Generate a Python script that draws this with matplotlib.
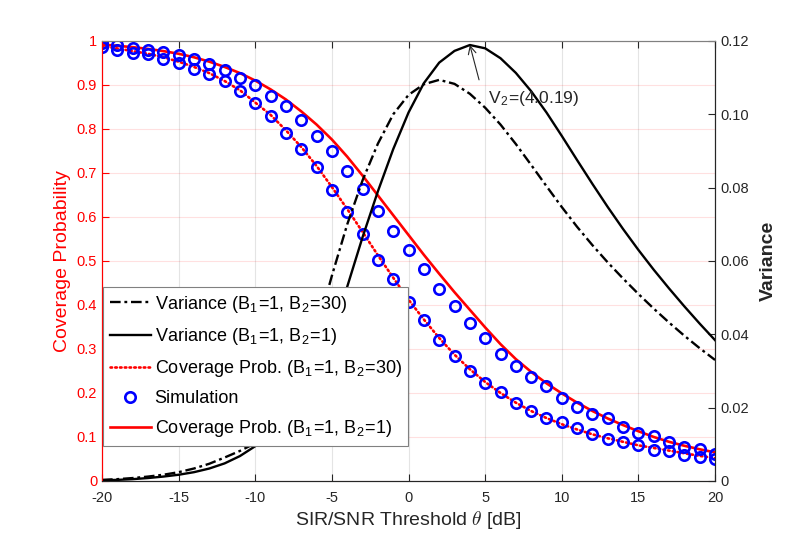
import numpy as np
import matplotlib
matplotlib.use("Agg")
import matplotlib.pyplot as plt
from matplotlib.lines import Line2D

plt.rcParams['font.family'] = ['Liberation Sans', 'DejaVu Sans']
plt.rcParams['mathtext.fontset'] = 'cm'
plt.rcParams['axes.unicode_minus'] = False

# SIR/SNR threshold [dB]
theta = np.arange(-20, 21)

# analytic coverage probability
cov_b1 = [0.992, 0.989, 0.986, 0.982, 0.977, 0.971, 0.963, 0.953, 0.941, 0.927,
          0.910, 0.890, 0.867, 0.840, 0.810, 0.776, 0.737, 0.694, 0.649, 0.604,
          0.559, 0.514, 0.471, 0.429, 0.389, 0.349, 0.311, 0.277, 0.248, 0.222,
          0.199, 0.178, 0.159, 0.142, 0.127, 0.113, 0.100, 0.089, 0.080, 0.072, 0.065]
cov_b30 = [0.988, 0.983, 0.977, 0.971, 0.963, 0.953, 0.941, 0.927, 0.909, 0.888,
           0.860, 0.832, 0.797, 0.759, 0.716, 0.668, 0.618, 0.566, 0.513, 0.462,
           0.412, 0.367, 0.325, 0.287, 0.254, 0.225, 0.200, 0.178, 0.159, 0.143,
           0.129, 0.117, 0.106, 0.097, 0.089, 0.081, 0.075, 0.069, 0.063, 0.057, 0.052]

# simulation points
sim_b1 = [0.995, 0.990, 0.985, 0.980, 0.975, 0.968, 0.958, 0.948, 0.934, 0.917,
          0.900, 0.876, 0.852, 0.820, 0.785, 0.750, 0.704, 0.664, 0.614, 0.569,
          0.525, 0.481, 0.436, 0.398, 0.358, 0.324, 0.289, 0.262, 0.236, 0.216,
          0.188, 0.169, 0.152, 0.144, 0.122, 0.110, 0.102, 0.088, 0.077, 0.073, 0.061]
sim_b30 = [0.987, 0.980, 0.973, 0.970, 0.960, 0.951, 0.937, 0.925, 0.908, 0.886,
           0.858, 0.830, 0.792, 0.754, 0.713, 0.661, 0.611, 0.561, 0.502, 0.459,
           0.406, 0.366, 0.320, 0.284, 0.250, 0.222, 0.202, 0.177, 0.158, 0.142,
           0.135, 0.120, 0.106, 0.095, 0.088, 0.082, 0.070, 0.067, 0.059, 0.055, 0.049]

# variance of the coverage
var_b1 = [0.0002, 0.0003, 0.0005, 0.0008, 0.0012, 0.0017, 0.0024, 0.0034, 0.0048, 0.0068,
          0.0095, 0.0128, 0.0170, 0.0225, 0.0300, 0.0405, 0.0530, 0.0665, 0.0790, 0.0905,
          0.1005, 0.1085, 0.1141, 0.1173, 0.1189, 0.1180, 0.1153, 0.1113, 0.1063, 0.1005,
          0.0941, 0.0875, 0.0810, 0.0747, 0.0687, 0.0630, 0.0576, 0.0525, 0.0476, 0.0429, 0.0384]
var_b30 = [0.0003, 0.0005, 0.0008, 0.0012, 0.0017, 0.0024, 0.0034, 0.0047, 0.0064, 0.0082,
           0.0103, 0.0148, 0.0210, 0.0295, 0.0410, 0.0560, 0.0700, 0.0820, 0.0920, 0.1000,
           0.1053, 0.1082, 0.1094, 0.1083, 0.1056, 0.1018, 0.0972, 0.0919, 0.0862, 0.0804,
           0.0747, 0.0693, 0.0643, 0.0596, 0.0552, 0.0510, 0.0470, 0.0432, 0.0396, 0.0362, 0.0330]

xticks = np.arange(-20, 21, 5)
left_ticks = np.arange(0, 1.01, 0.1)
right_ticks = np.arange(0, 0.121, 0.02)

dark = "#262626"
red = "#ff0000"

fig = plt.figure(figsize=(7.89, 5.40), dpi=100)
ax = fig.add_axes([0.1293, 0.1093, 0.777, 0.8148])
ax2 = ax.twinx()

# coverage (left axis)
dots = (0, (0.6, 1.2))
ax.plot(theta, cov_b1, color=red, lw=1.9, zorder=3)
ax.plot(theta, cov_b30, color=red, lw=1.9, linestyle=dots,
        dash_capstyle="round", zorder=3)
ax.plot(theta, sim_b1, "o", mfc="none", mec="#0000ff", mew=1.9, ms=7.5, zorder=4)
ax.plot(theta, sim_b30, "o", mfc="none", mec="#0000ff", mew=1.9, ms=7.5, zorder=4)

# variance (right axis)
dashdot = (0, (4.5, 1.6, 1.2, 1.6))
ax2.plot(theta, var_b30, color="black", lw=1.7, linestyle=dashdot)
ax2.plot(theta, var_b1, color="black", lw=1.7)

ax.set_xlim(-20, 20)
ax.set_ylim(0, 1)
ax2.set_ylim(0, 0.12)
ax.set_xticks(xticks)
ax.set_yticks(left_ticks)
ax.set_yticklabels(["0"] + ["%.1f" % v for v in left_ticks[1:-1]] + ["1"])
ax2.set_yticks(right_ticks)
ax2.set_yticklabels(["0"] + ["%.2f" % v for v in right_ticks[1:]])

ax.grid(axis="x", color=dark, alpha=0.12, lw=0.8)
ax.grid(axis="y", color=red, alpha=0.12, lw=0.8)
ax.set_axisbelow(True)

ax.tick_params(axis="x", direction="in", top=True, colors=dark, labelsize=10.5,
               length=5, width=0.8, pad=7)
ax.tick_params(axis="y", direction="in", colors=red, labelsize=10.5, length=5, width=0.8)
ax2.tick_params(axis="y", direction="in", colors=dark, labelsize=10.5, length=5, width=0.8)

for a in (ax, ax2):
    a.spines["top"].set_color("#808080")
    a.spines["bottom"].set_color(dark)
    a.spines["left"].set_color(red)
    a.spines["right"].set_color(dark)
    for s in a.spines.values():
        s.set_linewidth(0.8)

ax.set_xlabel(r"SIR/SNR Threshold $\theta$ [dB]", fontsize=14, color=dark, labelpad=3)
ax.set_ylabel("Coverage Probability", fontsize=14, color=red, labelpad=4)
ax2.set_ylabel("Variance", fontsize=14, color=dark, fontweight="bold", labelpad=8)

# peak marker for V2
peak = int(np.argmax(var_b1))
ax2.annotate("", xy=(theta[peak], var_b1[peak]), xytext=(4.6, 0.1094),
             arrowprops=dict(arrowstyle="->", color=dark, lw=0.8,
                             shrinkA=0, shrinkB=0, mutation_scale=14))
ax2.text(5.2, 0.1031, r"V$_\mathregular{2}$=(4.0.19)", fontsize=12.5, color=dark,
         ha="left", va="baseline")

handles = [
    Line2D([], [], color="black", lw=1.7, linestyle=dashdot),
    Line2D([], [], color="black", lw=1.7),
    Line2D([], [], color=red, lw=1.9, linestyle=dots, dash_capstyle="round"),
    Line2D([], [], color="#0000ff", marker="o", mfc="none", mew=1.9, ms=7.5, linestyle="none"),
    Line2D([], [], color=red, lw=1.9),
]
labels = [
    r"Variance (B$_\mathregular{1}$=1, B$_\mathregular{2}$=30)",
    r"Variance (B$_\mathregular{1}$=1, B$_\mathregular{2}$=1)",
    r"Coverage Prob. (B$_\mathregular{1}$=1, B$_\mathregular{2}$=30)",
    "Simulation",
    r"Coverage Prob. (B$_\mathregular{1}$=1, B$_\mathregular{2}$=1)",
]
leg = ax2.legend(handles, labels, loc="lower left", bbox_to_anchor=(0.002, 0.08),
                 fontsize=13, frameon=True, fancybox=False, framealpha=1,
                 edgecolor="#808080", handlelength=2.3, handletextpad=0.2,
                 labelspacing=0.62, borderpad=0.35, borderaxespad=0)
leg.get_frame().set_linewidth(0.8)
for t in leg.get_texts():
    t.set_color("black")

fig.savefig("out.png", dpi=100)
